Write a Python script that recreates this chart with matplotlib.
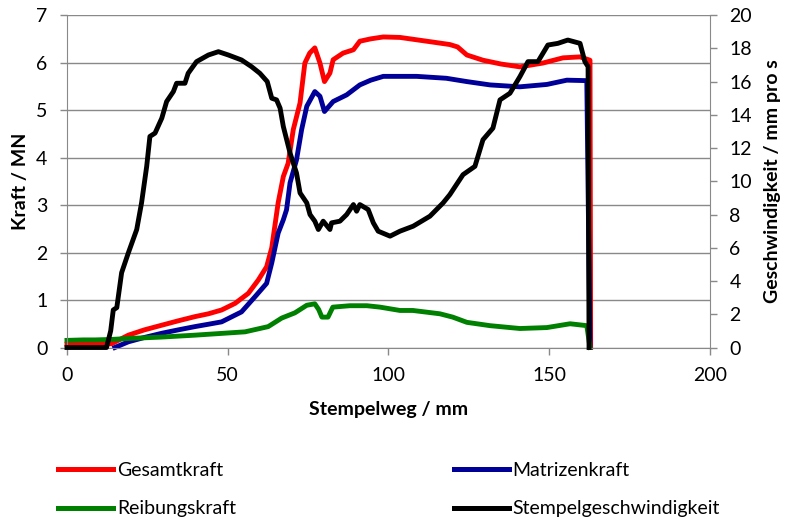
import matplotlib
matplotlib.use("Agg")
import matplotlib.pyplot as plt
from matplotlib.lines import Line2D

plt.rcParams['font.family'] = ['Lato', 'DejaVu Sans']

# Gesamtkraft / MN
weg_ges = [0, 5, 8.7, 13.9, 19.1, 24, 29.5, 34.5, 39.8, 44, 48.1, 52.3, 56.4, 59.5, 62.1, 63.7, 65.7,
           67.3, 68.8, 70.4, 72.5, 74.0, 75.5, 77.1, 78.7, 80.1, 81.8, 82.8, 85.9, 89.1, 91.1, 94.5,
           98.4, 103.6, 108.8, 114, 119.1, 121.5, 124.4, 129.4, 135, 140.9, 148, 154.3, 159.6, 162.7, 162.9]
kraft_ges = [0.07, 0.07, 0.07, 0.08, 0.26, 0.37, 0.47, 0.56, 0.65, 0.71, 0.79, 0.93, 1.14, 1.42, 1.7, 2.1, 3.05,
             3.6, 3.88, 4.59, 5.15, 5.99, 6.2, 6.31, 5.99, 5.6, 5.78, 6.06, 6.2, 6.27, 6.45, 6.5,
             6.54, 6.53, 6.48, 6.43, 6.38, 6.33, 6.16, 6.05, 5.97, 5.91, 5.99, 6.1, 6.12, 6.05, 0]

# Matrizenkraft / MN
weg_mat = [14.9, 17, 19.1, 24, 29.5, 34.5, 39.8, 44, 48.1, 54.3, 58.5, 62.1, 63.7, 65.7, 67.3, 68.3, 69.4,
           71.4, 73.0, 74.6, 77.1, 78.7, 80.1, 82.8, 87.0, 91.1, 94.5, 98.4, 108.8, 118, 124.4, 131.6,
           140.9, 149.3, 155.5, 161.7, 162.7]
kraft_mat = [0, 0.06, 0.12, 0.21, 0.3, 0.37, 0.44, 0.49, 0.54, 0.75, 1.07, 1.35, 1.78, 2.41, 2.69, 2.9, 3.47,
             3.95, 4.59, 5.08, 5.39, 5.29, 4.97, 5.18, 5.32, 5.53, 5.63, 5.71, 5.71, 5.67, 5.6, 5.53,
             5.49, 5.54, 5.63, 5.62, 0]

# Reibungskraft / MN
weg_reib = [0, 5, 8.7, 13.9, 19.1, 29.5, 39.8, 55.4, 62.6, 66.8, 70.9, 74.6, 77.1, 78.3, 79.3, 81.2, 82.7,
            88, 93.3, 97.4, 103.6, 107.6, 116, 120, 124.4, 131.6, 140.9, 149.3, 156.5, 161.7, 162.7]
kraft_reib = [0.15, 0.16, 0.16, 0.17, 0.19, 0.22, 0.26, 0.33, 0.44, 0.62, 0.73, 0.89, 0.92, 0.8, 0.64, 0.64, 0.85,
              0.88, 0.88, 0.85, 0.78, 0.78, 0.71, 0.64, 0.53, 0.46, 0.4, 0.42, 0.5, 0.46, 0]

# Stempelgeschwindigkeit / mm pro s
weg_v = [0, 12.3, 13.6, 14.4, 15.5, 17.0, 19.1, 21.7, 23.2, 24.8, 25.8, 27.4, 29.5, 31.0, 33.1, 34.1,
         36.7, 37.7, 40.3, 44.0, 47.1, 50.2, 54.3, 57.4, 60.0, 62.3, 63.7, 65.2, 66.3, 67.3, 69.4,
         71.4, 72.5, 74.6, 75.6, 77.1, 78.2, 79.7, 81.8, 82.3, 84.9, 87.0, 89.1, 90.1, 91.1, 93.7,
         95.3, 96.8, 100.5, 103.6, 107.7, 112.9, 117.0, 119.1, 123.2, 126.9, 129.4, 132.5, 134.7,
         137.8, 140.9, 143.4, 146.5, 149.6, 152.7, 155.8, 159.6, 161.1, 162.1, 162.4]
geschw = [0, 0, 1.0, 2.26, 2.4, 4.5, 5.7, 7.1, 8.7, 10.9, 12.7, 12.9, 13.8, 14.8, 15.4, 15.9,
          15.9, 16.5, 17.2, 17.6, 17.8, 17.6, 17.3, 16.9, 16.5, 16.0, 15.0, 14.9, 14.4, 13.3, 11.7,
          10.5, 9.3, 8.7, 8.0, 7.6, 7.1, 7.6, 7.1, 7.5, 7.6, 8.0, 8.6, 8.2, 8.6, 8.3,
          7.5, 7.0, 6.7, 7.0, 7.3, 7.9, 8.7, 9.2, 10.4, 10.9, 12.5, 13.2, 14.9,
          15.3, 16.3, 17.2, 17.2, 18.2, 18.3, 18.5, 18.3, 17.2, 16.9, 0]

grau = '#898989'
fs = 14

fig = plt.figure(figsize=(7.86, 5.21), dpi=100)
ax = fig.add_axes([0.0852, 0.333, 0.818, 0.638])
ax2 = ax.twinx()

lw = 3.5
ax.plot(weg_ges, kraft_ges, color='#ff0000', lw=lw, clip_on=False)
ax.plot(weg_mat, kraft_mat, color='#000099', lw=lw, clip_on=False)
ax.plot(weg_reib, kraft_reib, color='#008000', lw=lw, clip_on=False)
ax2.plot(weg_v, geschw, color='black', lw=lw, clip_on=False)

ax.set_xlim(0, 200)
ax.set_ylim(0, 7)
ax2.set_ylim(0, 20)
ax.set_xticks(range(0, 201, 50))
ax.set_yticks(range(0, 8))
ax2.set_yticks(range(0, 21, 2))

ax.yaxis.grid(True, color=grau, lw=1)
ax.set_axisbelow(True)

for a in (ax, ax2):
    for s in a.spines.values():
        s.set_visible(False)
    a.tick_params(labelsize=fs, color=grau, length=5, width=1, pad=9)
ax.spines['left'].set_visible(True)
ax.spines['left'].set_color(grau)
ax.spines['bottom'].set_visible(True)
ax.spines['bottom'].set_color(grau)
ax2.spines['right'].set_visible(True)
ax2.spines['right'].set_color(grau)

ax.set_xlabel('Stempelweg / mm', fontsize=fs, fontweight='bold', labelpad=12)
ax.set_ylabel('Kraft / MN', fontsize=fs, fontweight='bold', labelpad=5)
ax2.set_ylabel('Geschwindigkeit / mm pro s', fontsize=fs, fontweight='bold', labelpad=9)

handles = [Line2D([], [], color='#ff0000', lw=3.6),
           Line2D([], [], color='#008000', lw=3.6),
           Line2D([], [], color='#000099', lw=3.6),
           Line2D([], [], color='black', lw=3.6)]
labels = ['Gesamtkraft', 'Reibungskraft', 'Matrizenkraft', 'Stempelgeschwindigkeit']
fig.legend(handles, labels, loc='upper left', bbox_to_anchor=(0.0738, 0.1132), ncol=2,
           frameon=False, fontsize=fs, handlelength=2.83, handletextpad=0.2,
           columnspacing=11.2, labelspacing=1.1, borderaxespad=0, borderpad=0)

fig.savefig('out.png', dpi=100)
